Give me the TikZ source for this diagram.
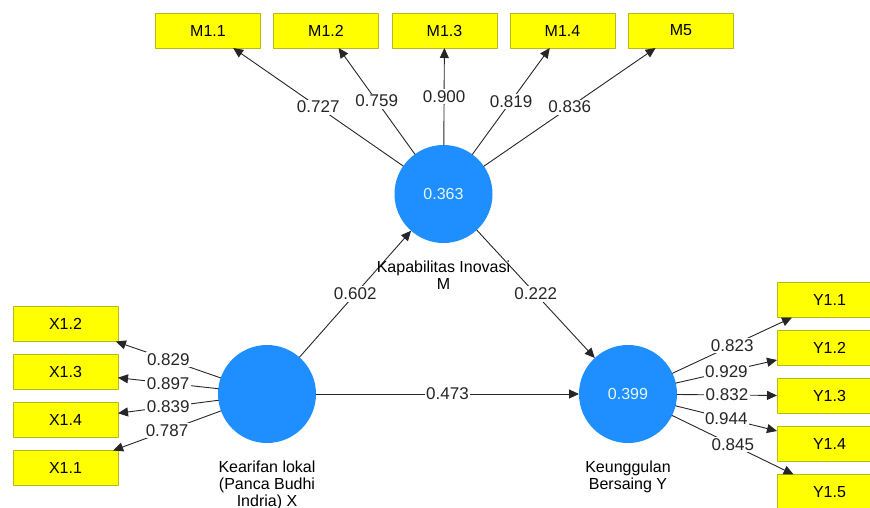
\documentclass[tikz,border=0pt]{standalone}
\usepackage{fontspec}
\setmainfont{Liberation Sans}
\usepackage{tikz}
\usetikzlibrary{calc}
\usetikzlibrary{arrows.meta}
\usetikzlibrary{positioning}
\definecolor{ffffqq}{rgb}{1.,1.,0.}
\definecolor{bbbbqq}{rgb}{0.74,0.72,0.1}
\definecolor{qqzzff}{rgb}{0.12,0.56,1.}
\tikzstyle{every node}=[font=\fontsize{16}{17}\selectfont]
\tikzset{
  ind/.style={draw=bbbbqq,fill=ffffqq,line width=0.8pt,minimum width=105pt,minimum height=35pt,inner sep=0pt,outer sep=0pt},
  lv/.style={circle,fill=qqzzff,minimum size=98pt,inner sep=0pt,outer sep=0pt,text=white!90!cyan},
  coef/.style={fill=white,inner sep=1.5pt,font=\fontsize{17}{18}\selectfont},
  lvname/.style={align=center,inner sep=0pt},
  path/.style={->,line width=0.9pt,color=black!85}
}

\begin{document}
\begin{tikzpicture}[line cap=round,line join=round,>={Triangle[length=10pt,width=9pt]},x=1pt,y=-1pt]
            \useasboundingbox (0,0) rectangle (870,507);
            \clip (0,0) rectangle (870,507);
            % latent variables
            \node[lv] (m) at (443.5,194) {0.363};
            \node[lv] (x) at (267,394) {};
            \node[lv] (y) at (628,394) {0.399};
            % indicators
            \node[ind] (m11) at (208,30.5) {M1.1};
            \node[ind] (m12) at (326,30.5) {M1.2};
            \node[ind] (m13) at (444.5,30.5) {M1.3};
            \node[ind] (m14) at (562.5,30.5) {M1.4};
            \node[ind] (m5) at (681,30.5) {M5};
            \node[ind] (x12) at (65.5,324) {X1.2};
            \node[ind] (x13) at (65.5,372) {X1.3};
            \node[ind] (x14) at (65.5,420) {X1.4};
            \node[ind] (x11) at (65.5,468) {X1.1};
            \node[ind] (y11) at (829.5,300) {Y1.1};
            \node[ind] (y12) at (829.5,348) {Y1.2};
            \node[ind] (y13) at (829.5,396) {Y1.3};
            \node[ind] (y14) at (829.5,444) {Y1.4};
            \node[ind] (y15) at (829.5,492) {Y1.5};
            % loadings
            \draw [path] (m) -- (m11) node [coef, midway] {0.727};
            \draw [path] (m) -- (m12) node [coef, midway] {0.759};
            \draw [path] (m) -- (m13) node [coef, midway] {0.900};
            \draw [path] (m) -- (m14) node [coef, midway] {0.819};
            \draw [path] (m) -- (m5) node [coef, midway] {0.836};
            \draw [path] (x) -- (x12) node [coef, midway] {0.829};
            \draw [path] (x) -- (x13) node [coef, midway] {0.897};
            \draw [path] (x) -- (x14) node [coef, midway] {0.839};
            \draw [path] (x) -- (x11) node [coef, midway] {0.787};
            \draw [path] (y) -- (y11) node [coef, midway] {0.823};
            \draw [path] (y) -- (y12) node [coef, midway] {0.929};
            \draw [path] (y) -- (y13) node [coef, midway] {0.832};
            \draw [path] (y) -- (y14) node [coef, midway] {0.944};
            \draw [path] (y) -- (y15) node [coef, midway] {0.845};
            % inner model
            \draw [path] (x) -- (m) node [coef, midway] {0.602};
            \draw [path] (m) -- (y) node [coef, midway] {0.222};
            \draw [path] (x) -- (y) node [coef, midway] {0.473};
            % names
            \node[lvname, below=18pt of m] (mname) {Kapabilitas Inovasi\\M};
            \node[lvname, below=18pt of x] (xname) {Kearifan lokal\\(Panca Budhi\\Indria) X};
            \node[lvname, below=18pt of y] (yname) {Keunggulan\\Bersaing Y};
\end{tikzpicture}
\end{document}
